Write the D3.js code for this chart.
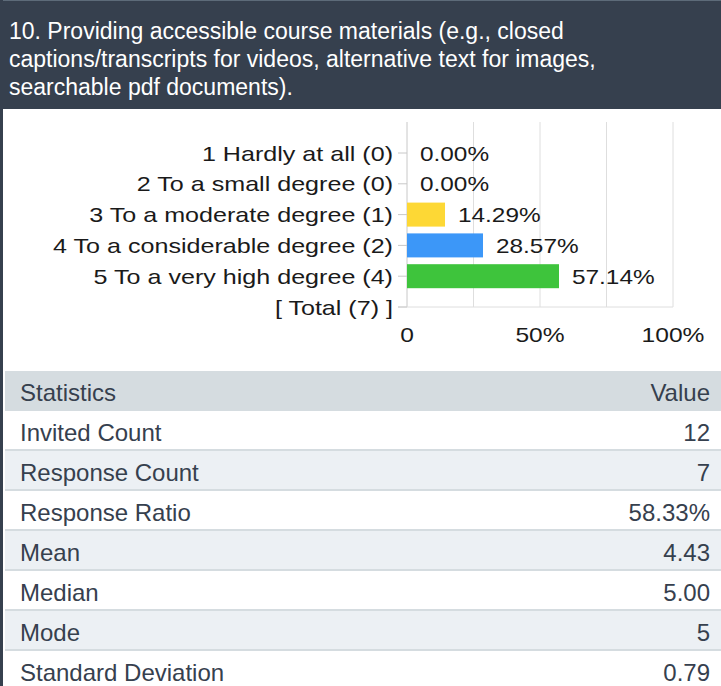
<!DOCTYPE html>
<html>
<head>
<meta charset="utf-8">
<script src="https://cdn.jsdelivr.net/npm/d3@7"></script>
<style>
body { margin: 0; background: #fff; }
svg { display: block; font-family: "Liberation Sans", Arial, sans-serif; }
</style>
</head>
<body>
<div id="chart"></div>
<script>
var svgWidth = 721;
var svgHeight = 686;

// data
var titleLines = ["10. Providing accessible course materials (e.g., closed",
                  "captions/transcripts for videos, alternative text for images,",
                  "searchable pdf documents)."];
var categories = ["1 Hardly at all (0)", "2 To a small degree (0)", "3 To a moderate degree (1)",
                  "4 To a considerable degree (2)", "5 To a very high degree (4)", "[ Total (7) ]"];
var percents = [0.00, 0.00, 14.29, 28.57, 57.14];
var barColors = ["#fdd835", "#fdd835", "#fdd835", "#3c97f8", "#3ec43c"];
var xTicks = [0, 25, 50, 75, 100];
var xTickLabels = ["0", "", "50%", "", "100%"];
var statNames = ["Invited Count", "Response Count", "Response Ratio", "Mean", "Median", "Mode", "Standard Deviation"];
var statValues = ["12", "7", "58.33%", "4.43", "5.00", "5", "0.79"];

var dark = "#36404e";
var margin = ({top: 122, left: 407, right: 48, bottom: 379});

var svg = d3.select("#chart")
    .append("svg")
    .attr("width", svgWidth)
    .attr("height", svgHeight);

// header band
svg.append("rect")
    .attr("x", 0).attr("y", 0)
    .attr("width", svgWidth).attr("height", 109)
    .attr("fill", dark);
svg.append("rect")
    .attr("x", 0).attr("y", 0)
    .attr("width", svgWidth).attr("height", 1)
    .attr("fill", "#5d6b79");

svg.selectAll(".title")
    .data(titleLines)
    .enter()
    .append("text")
    .classed("title", true)
    .attr("x", 9)
    .attr("y", (d, i) => 39 + i*28)
    .attr("fill", "#fff")
    .attr("font-size", 23)
    .text(d => d);

// left border
svg.append("rect")
    .attr("x", 0).attr("y", 0)
    .attr("width", 3).attr("height", svgHeight)
    .attr("fill", dark);

// bar chart
var xScale = d3.scaleLinear()
    .domain([0, 100])
    .range([margin.left, svgWidth - margin.right]);

var yScale = d3.scalePoint()
    .domain(categories)
    .range([153, 307]);

var chartBottom = yScale(categories[categories.length - 1]);
var chart = svg.append("g").classed("barGroup", true);

chart.selectAll(".grid")
    .data(xTicks)
    .enter()
    .append("line")
    .classed("grid", true)
    .attr("x1", d => xScale(d)).attr("x2", d => xScale(d))
    .attr("y1", margin.top).attr("y2", chartBottom)
    .attr("stroke", d => d == 0 ? "#c8c8c8" : "#dedede")
    .attr("stroke-width", 1);

chart.append("line")
    .attr("x1", xScale(0) - 9).attr("x2", xScale(100))
    .attr("y1", chartBottom).attr("y2", chartBottom)
    .attr("stroke", "#dedede");

chart.selectAll(".ytick")
    .data(categories)
    .enter()
    .append("line")
    .classed("ytick", true)
    .attr("x1", xScale(0) - 9).attr("x2", xScale(0))
    .attr("y1", d => yScale(d)).attr("y2", d => yScale(d))
    .attr("stroke", "#c8c8c8");

chart.selectAll(".bar")
    .data(percents)
    .enter()
    .append("rect")
    .classed("bar", true)
    .attr("x", xScale(0))
    .attr("y", (d, i) => yScale(categories[i]) - 12)
    .attr("width", d => xScale(d) - xScale(0))
    .attr("height", 24)
    .attr("fill", (d, i) => barColors[i]);

// chart text in the picture is wider than it is tall
function widen(k) {
    return function(sel) {
        sel.each(function() {
            var w = this.getComputedTextLength();
            d3.select(this)
                .attr("textLength", w*k)
                .attr("lengthAdjust", "spacingAndGlyphs");
        });
    };
}

chart.selectAll(".catLabel")
    .data(categories)
    .enter()
    .append("text")
    .classed("catLabel", true)
    .attr("x", xScale(0) - 14)
    .attr("y", d => yScale(d) + 7.5)
    .attr("text-anchor", "end")
    .attr("font-size", 21)
    .attr("fill", "#1a1a1a")
    .text(d => d)
    .call(widen(1.195));

chart.selectAll(".valLabel")
    .data(percents)
    .enter()
    .append("text")
    .classed("valLabel", true)
    .attr("x", d => xScale(d) + 13)
    .attr("y", (d, i) => yScale(categories[i]) + 7.5)
    .attr("font-size", 21)
    .attr("fill", "#1a1a1a")
    .text(d => d.toFixed(2) + "%")
    .call(widen(1.16));

chart.selectAll(".xLabel")
    .data(xTicks)
    .enter()
    .append("text")
    .classed("xLabel", true)
    .attr("x", d => xScale(d))
    .attr("y", 342)
    .attr("text-anchor", "middle")
    .attr("font-size", 21)
    .attr("fill", "#1a1a1a")
    .text((d, i) => xTickLabels[i])
    .call(widen(1.17));

// statistics table
var rowH = 40;
var tableTop = 371;
var rows = [["Statistics", "Value"]].concat(statNames.map((d, i) => [d, statValues[i]]));

var table = svg.append("g").classed("statTable", true);

var rowG = table.selectAll("g")
    .data(rows)
    .enter()
    .append("g")
    .attr("transform", (d, i) => "translate(0," + (tableTop + i*rowH) + ")");

rowG.append("rect")
    .attr("x", 5).attr("y", 0)
    .attr("width", svgWidth - 5).attr("height", rowH)
    .attr("fill", (d, i) => i == 0 ? "#d5dce0" : (i % 2 == 0 ? "#ecf0f4" : "#ffffff"));

rowG.append("rect")
    .attr("x", 5).attr("y", rowH - 2)
    .attr("width", svgWidth - 5).attr("height", 2)
    .attr("fill", "#d5dce0");

rowG.append("text")
    .attr("x", 20).attr("y", 29.5)
    .attr("font-size", 24)
    .attr("fill", dark)
    .text(d => d[0]);

rowG.append("text")
    .attr("x", 710).attr("y", 29.5)
    .attr("text-anchor", "end")
    .attr("font-size", 24)
    .attr("fill", dark)
    .text(d => d[1]);
</script>
</body>
</html>
